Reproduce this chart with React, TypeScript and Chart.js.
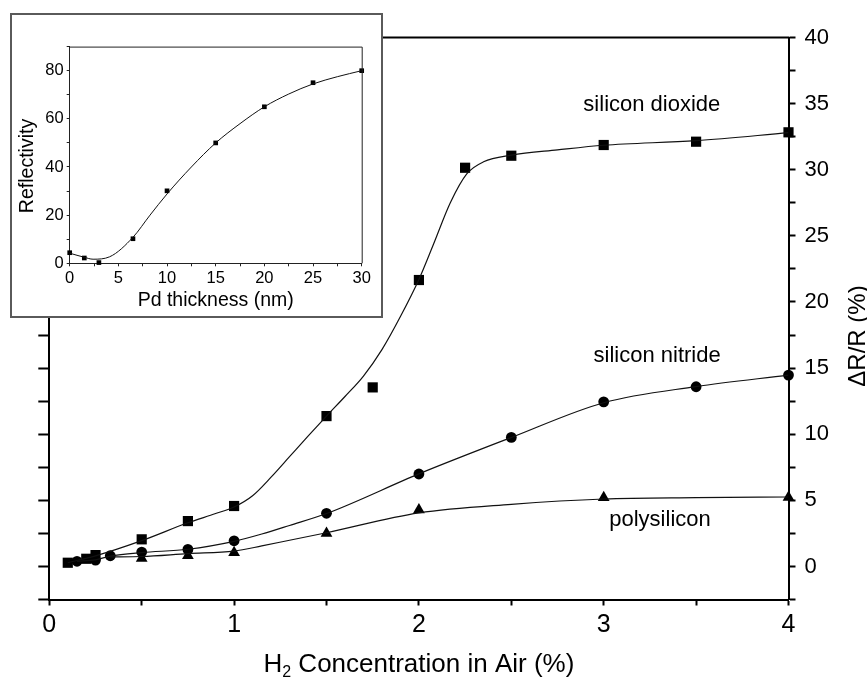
import React, { useEffect, useRef } from 'react';
import { Chart, registerables } from 'chart.js';

Chart.register(...registerables);

// ---------- main chart data (H2 concentration %, ΔR/R %) ----------
const dioxideX = [0.1, 0.2, 0.25, 0.5, 0.75, 1.0, 1.5, 1.75, 2.0, 2.25, 2.5, 3.0, 3.5, 4.0];
const dioxideY = [0.28, 0.58, 0.86, 2.05, 3.43, 4.57, 11.37, 13.54, 21.66, 30.15, 31.06, 31.87, 32.12, 32.83];

const nitrideX = [0.15, 0.25, 0.33, 0.5, 0.75, 1.0, 1.5, 2.0, 2.5, 3.0, 3.5, 4.0];
const nitrideY = [0.39, 0.48, 0.81, 1.09, 1.29, 1.94, 4.02, 6.99, 9.76, 12.45, 13.59, 14.47];

const polyX = [0.5, 0.75, 1.0, 1.5, 2.0, 3.0, 4.0];
const polyY = [0.62, 0.82, 1.05, 2.51, 4.28, 5.21, 5.23];

// fitted curves
const dioxideFitX = [0.1, 0.25, 0.5, 0.75, 0.9, 1.0, 1.1, 1.2, 1.3, 1.4, 1.5, 1.6, 1.7, 1.8, 1.9, 2.0, 2.08, 2.17, 2.26, 2.35, 2.5, 2.75, 3.0, 3.5, 4.0];
const dioxideFitY = [0.28, 0.8, 1.95, 3.3, 4.0, 4.5, 5.35, 6.75, 8.3, 9.85, 11.37, 12.85, 14.4, 16.4, 18.9, 21.7, 24.4, 27.5, 29.7, 30.6, 31.1, 31.5, 31.85, 32.2, 32.8];

const nitrideFitX = [0.15, 0.25, 0.33, 0.5, 0.75, 1.0, 1.15, 1.3, 1.5, 2.0, 2.5, 3.0, 3.5, 4.0];
const nitrideFitY = [0.39, 0.5, 0.78, 1.05, 1.3, 1.9, 2.45, 3.1, 4.0, 7.0, 9.75, 12.38, 13.6, 14.47];

const polyFitX = [0.33, 0.5, 0.75, 1.0, 1.15, 1.3, 1.5, 2.0, 2.5, 3.0, 3.5, 4.0];
const polyFitY = [0.72, 0.75, 0.97, 1.16, 1.55, 1.98, 2.55, 4.05, 4.7, 5.1, 5.2, 5.25];

const xTickLabels = ['0', '1', '2', '3', '4'];
const seriesLabels = ['silicon dioxide', 'silicon nitride', 'polysilicon'];
const seriesLabelAt = [
  [2.89, 34.44],
  [2.945, 15.45],
  [3.03, 3.05],
];

// ---------- inset data (Pd thickness nm, reflectivity) ----------
const insetX = [0, 1.5, 3, 6.5, 10, 15, 20, 25, 30];
const insetY = [4.4, 2.2, 0.3, 10.2, 30.1, 50, 65, 75, 80];
const insetFitX = [0, 1.5, 2.4, 4.1, 6.5, 8.25, 10, 12.5, 15, 17.5, 20, 22.5, 25, 27.5, 30];
const insetFitY = [4.2, 2.5, 1.7, 2.7, 10.8, 20, 28.8, 40, 50, 58, 65, 70.3, 74.5, 77.5, 80];

const FONT = "'Liberation Sans', Arial, Helvetica, sans-serif";

const pts = (xs: number[], ys: number[]) => xs.map((x, i) => ({ x, y: ys[i] }));

const fitLine = (xs: number[], ys: number[], w = 1.2) => ({
  data: pts(xs, ys),
  showLine: true,
  pointRadius: 0,
  borderColor: '#111',
  borderWidth: w,
  cubicInterpolationMode: 'monotone' as const,
  fill: false,
});

const markers = (xs: number[], ys: number[], style: string, r: number) => ({
  data: pts(xs, ys),
  showLine: false,
  pointStyle: style,
  pointRadius: r,
  pointBackgroundColor: '#000',
  pointBorderWidth: 0,
  clip: false as const,
});

const mainTextPlugin = {
  id: 'mainText',
  afterDatasetsDraw(chart: any) {
    const { ctx, chartArea: a, scales } = chart;
    ctx.save();
    // top frame line
    ctx.strokeStyle = '#000';
    ctx.lineWidth = 2;
    ctx.beginPath();
    ctx.moveTo(a.left, a.top);
    ctx.lineTo(a.right + 1, a.top);
    ctx.stroke();

    ctx.fillStyle = '#000';
    // series labels
    ctx.font = `22px ${FONT}`;
    ctx.textAlign = 'left';
    ctx.textBaseline = 'alphabetic';
    seriesLabels.forEach((t, i) => {
      const [lx, ly] = seriesLabelAt[i];
      ctx.fillText(t, scales.x.getPixelForValue(lx), scales.y.getPixelForValue(ly));
    });

    // x title with subscript
    const big = `26px ${FONT}`;
    const small = `16px ${FONT}`;
    ctx.font = big;
    const wH = ctx.measureText('H').width;
    const rest = ' Concentration in Air (%)';
    const wRest = ctx.measureText(rest).width;
    ctx.font = small;
    const w2 = ctx.measureText('2').width;
    const total = wH + w2 + wRest;
    const cx = (a.left + a.right) / 2;
    const by = a.bottom + 72.5;
    const x0 = cx - total / 2;
    ctx.font = big;
    ctx.fillText('H', x0, by);
    ctx.font = small;
    ctx.fillText('2', x0 + wH, by + 5);
    ctx.font = big;
    ctx.fillText(rest, x0 + wH + w2, by);

    // right title, rotated
    ctx.save();
    ctx.translate(a.right + 76.5, 336);
    ctx.rotate(-Math.PI / 2);
    ctx.font = `24px ${FONT}`;
    ctx.textAlign = 'center';
    ctx.fillText('ΔR/R (%)', 0, 0);
    ctx.restore();
    ctx.restore();
  },
};

const insetTextPlugin = {
  id: 'insetText',
  afterDraw(chart: any) {
    const { ctx, chartArea: a } = chart;
    ctx.save();
    ctx.strokeStyle = '#222';
    ctx.lineWidth = 1;
    ctx.beginPath();
    ctx.moveTo(a.left, a.top + 0.5);
    ctx.lineTo(a.right + 0.5, a.top + 0.5);
    ctx.lineTo(a.right + 0.5, a.bottom);
    ctx.stroke();
    ctx.fillStyle = '#000';
    ctx.font = `19.5px ${FONT}`;
    ctx.textAlign = 'center';
    ctx.textBaseline = 'alphabetic';
    ctx.fillText('Pd thickness (nm)', (a.left + a.right) / 2, a.bottom + 42.7);
    ctx.save();
    ctx.translate(a.left - 37.2, a.top + 119.4);
    ctx.rotate(-Math.PI / 2);
    ctx.fillText('Reflectivity', 0, 0);
    ctx.restore();
    ctx.restore();
  },
};

export default function App() {
  const mainRef = useRef<HTMLCanvasElement>(null);
  const insetRef = useRef<HTMLCanvasElement>(null);

  useEffect(() => {
    if (!mainRef.current || !insetRef.current) return;
    const axisGrid = (len: number, w = 2, color = '#000') => ({
      drawOnChartArea: false,
      drawTicks: true,
      tickLength: len,
      tickColor: color,
      tickWidth: w,
    });
    const main = new Chart(mainRef.current, {
      type: 'scatter',
      data: {
        datasets: [
          fitLine(dioxideFitX, dioxideFitY),
          fitLine(nitrideFitX, nitrideFitY),
          fitLine(polyFitX, polyFitY),
          markers(dioxideX, dioxideY, 'rect', 7.2),
          markers(nitrideX, nitrideY, 'circle', 5.4),
          markers(polyX, polyY, 'triangle', 6.8),
        ] as any,
      },
      options: {
        animation: false,
        responsive: false,
        devicePixelRatio: 1,
        layout: { padding: { top: 37.5, left: 0, right: 0, bottom: 0 } },
        plugins: { legend: { display: false }, tooltip: { enabled: false } },
        scales: {
          x: {
            type: 'linear',
            position: 'bottom',
            min: 0,
            max: 4,
            afterFit: (s: any) => { s.height = 79.5; },
            ticks: {
              stepSize: 0.5,
              autoSkip: false,
              maxRotation: 0,
              padding: 5,
              color: '#000',
              font: { family: FONT, size: 25 },
              callback: (v: any) => (Number.isInteger(v) ? xTickLabels[v] : ''),
            },
            grid: axisGrid(6),
            border: { display: true, color: '#000', width: 2 },
          },
          y: {
            type: 'linear',
            position: 'right',
            min: -2.5,
            max: 40,
            afterFit: (s: any) => { s.width = 78.5; },
            ticks: {
              stepSize: 2.5,
              autoSkip: false,
              padding: 9,
              color: '#000',
              font: { family: FONT, size: 22 },
              callback: (v: any) => (v % 5 === 0 ? String(v) : ''),
            },
            grid: axisGrid(7),
            border: { display: true, color: '#000', width: 2 },
          },
          yL: {
            type: 'linear',
            position: 'left',
            min: -2.5,
            max: 40,
            afterFit: (s: any) => { s.width = 49.3; },
            ticks: { stepSize: 2.5, autoSkip: false, callback: () => '' },
            grid: axisGrid(11),
            border: { display: true, color: '#000', width: 2 },
          },
        },
      } as any,
      plugins: [mainTextPlugin],
    });

    const inset = new Chart(insetRef.current, {
      type: 'scatter',
      data: {
        datasets: [
          fitLine(insetFitX, insetFitY, 1),
          markers(insetX, insetY, 'rect', 3.3),
        ] as any,
      },
      options: {
        animation: false,
        responsive: false,
        devicePixelRatio: 1,
        layout: { padding: { top: 31.6, right: 19.3, left: 0, bottom: 0 } },
        plugins: { legend: { display: false }, tooltip: { enabled: false } },
        scales: {
          x: {
            type: 'linear',
            position: 'bottom',
            min: 0,
            max: 30,
            afterFit: (s: any) => { s.height = 52.7; },
            ticks: {
              stepSize: 2.5,
              autoSkip: false,
              maxRotation: 0,
              padding: 2,
              color: '#000',
              font: { family: FONT, size: 16.5 },
              callback: (v: any) => (v % 5 === 0 ? String(v) : ''),
            },
            grid: axisGrid(3, 1, '#222'),
            border: { display: true, color: '#222', width: 1 },
          },
          y: {
            type: 'linear',
            position: 'left',
            min: 0,
            max: 90,
            afterFit: (s: any) => { s.width = 57.7; },
            ticks: {
              stepSize: 10,
              autoSkip: false,
              padding: 3,
              color: '#000',
              font: { family: FONT, size: 16.5 },
              callback: (v: any) => (v % 20 === 0 && v <= 80 ? String(v) : ''),
            },
            grid: axisGrid(3, 1, '#222'),
            border: { display: true, color: '#222', width: 1 },
          },
        },
      } as any,
      plugins: [insetTextPlugin],
    });

    return () => {
      main.destroy();
      inset.destroy();
    };
  }, []);

  return (
    <div style={{ position: 'absolute', left: 0, top: 0, width: 867, height: 679, background: '#fff' }}>
      <canvas ref={mainRef} width={867} height={679} style={{ position: 'absolute', left: 0, top: 0, width: 867, height: 679 }} />
      <div
        style={{
          position: 'absolute',
          left: 10,
          top: 13,
          width: 369,
          height: 301,
          border: '2px solid #5a5a5a',
          background: '#fff',
        }}
      >
        <canvas ref={insetRef} width={369} height={301} style={{ display: 'block', width: 369, height: 301 }} />
      </div>
    </div>
  );
}
